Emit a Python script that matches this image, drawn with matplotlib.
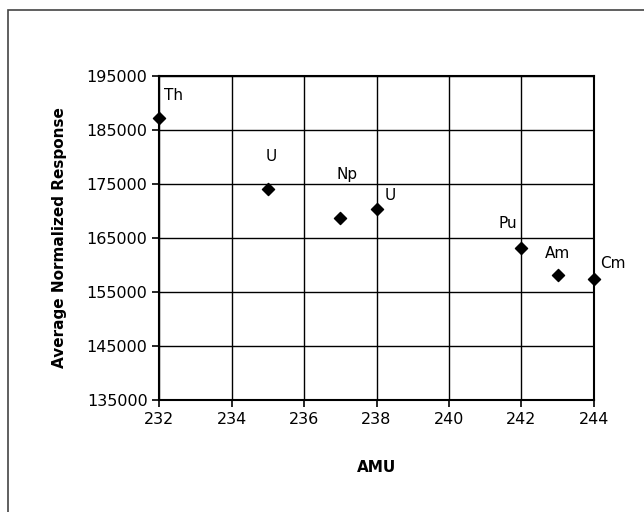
import matplotlib
matplotlib.use("Agg")
import matplotlib.pyplot as plt
from matplotlib.patches import Rectangle

amu = [232, 235, 237, 238, 242, 243, 244]
response = [187200, 174000, 168600, 170300, 163100, 158100, 157300]
elements = ["Th", "U", "Np", "U", "Pu", "Am", "Cm"]
y_ticks = [135000, 145000, 155000, 165000, 175000, 185000, 195000]
x_ticks = [232, 234, 236, 238, 240, 242, 244]

# label offsets in pixels (dx, dy) relative to each point
label_offsets = [(14, 22), (3, 33), (7, 44), (14, 14), (-14, 25), (0, 22), (19, 16)]


def main():
    plt.rcParams['font.family'] = ['DejaVu Sans']
    fig = plt.figure(figsize=(6.44, 5.12), dpi=100)
    fig.patches.append(Rectangle((8 / 644, -0.1), 1.2, 1 - 10 / 512 + 0.1,
                                 transform=fig.transFigure, fill=False,
                                 edgecolor='#444444', linewidth=1.2))
    ax = fig.add_axes([0.2474, 0.219, 0.922 - 0.2474, 0.852 - 0.219])

    ax.scatter(amu, response, marker='D', s=38, color='black', zorder=3, clip_on=False)
    for x, y, name, (dx, dy) in zip(amu, response, elements, label_offsets):
        ax.annotate(name, (x, y), xytext=(dx, dy), textcoords='offset pixels',
                    ha='center', va='center', fontsize=11)

    ax.set_xlim(232, 244)
    ax.set_ylim(135000, 195000)
    ax.set_xticks(x_ticks)
    ax.set_yticks(y_ticks)
    ax.tick_params(labelsize=11.5, direction='out', length=5, width=1.2, color='black')
    ax.grid(True, color='black', linewidth=1.0)
    ax.set_axisbelow(True)
    for s in ax.spines.values():
        s.set_linewidth(1.5)

    ax.set_xlabel("AMU", fontsize=11, fontweight='bold', labelpad=24)
    ax.set_ylabel("Average Normalized Response", fontsize=11, fontweight='bold', labelpad=14)

    fig.savefig("out.png", dpi=100)


if __name__ == '__main__':
    main()
